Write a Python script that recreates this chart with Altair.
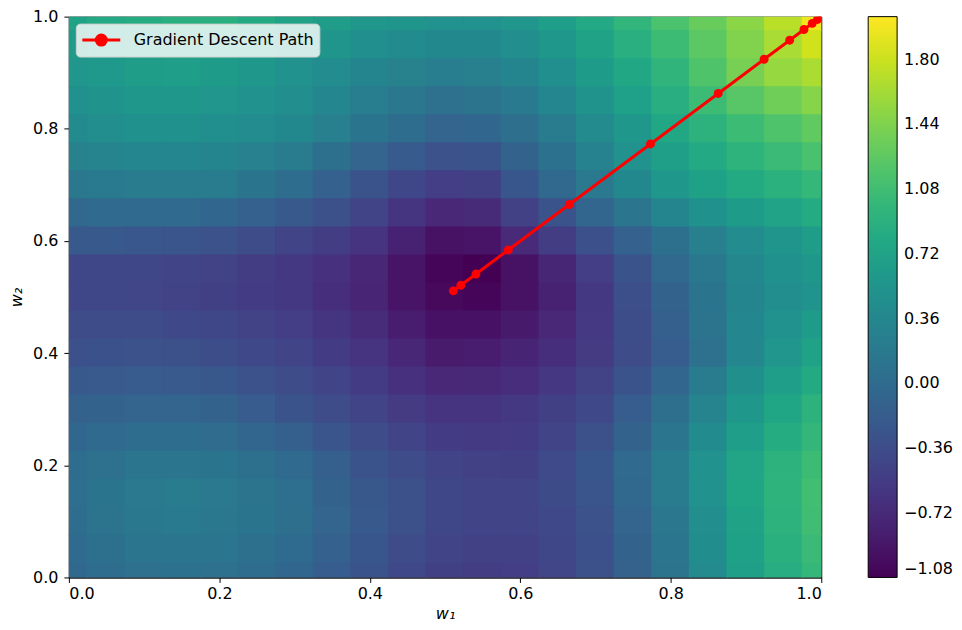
import altair as alt
import pandas as pd

# ---- data ----
w1_grid = [0.00, 0.05, 0.10, 0.15, 0.20, 0.25, 0.30, 0.35, 0.40, 0.45, 0.50,
           0.55, 0.60, 0.65, 0.70, 0.75, 0.80, 0.85, 0.90, 0.95, 1.00]
w2_grid = [1.00, 0.95, 0.90, 0.85, 0.80, 0.75, 0.70, 0.65, 0.60, 0.55, 0.50,
           0.45, 0.40, 0.35, 0.30, 0.25, 0.20, 0.15, 0.10, 0.05, 0.00]

loss_rows = [
    [0.72, 0.80, 0.85, 0.88, 0.88, 0.82, 0.72, 0.65, 0.58, 0.54, 0.50, 0.50, 0.55, 0.67, 0.80, 0.97, 1.15, 1.32, 1.50, 1.72, 1.98],
    [0.64, 0.70, 0.75, 0.77, 0.76, 0.70, 0.61, 0.54, 0.46, 0.41, 0.37, 0.38, 0.44, 0.57, 0.71, 0.88, 1.05, 1.25, 1.45, 1.64, 1.82],
    [0.55, 0.60, 0.65, 0.66, 0.64, 0.58, 0.50, 0.42, 0.33, 0.28, 0.24, 0.25, 0.33, 0.46, 0.62, 0.78, 0.95, 1.18, 1.40, 1.55, 1.65],
    [0.48, 0.53, 0.57, 0.57, 0.55, 0.50, 0.44, 0.34, 0.23, 0.15, 0.08, 0.10, 0.19, 0.34, 0.51, 0.69, 0.87, 1.05, 1.23, 1.36, 1.47],
    [0.40, 0.45, 0.48, 0.48, 0.46, 0.42, 0.38, 0.25, 0.12, 0.02, -0.08, -0.05, 0.05, 0.22, 0.40, 0.59, 0.78, 0.92, 1.05, 1.17, 1.28],
    [0.28, 0.32, 0.35, 0.35, 0.33, 0.27, 0.20, 0.06, -0.08, -0.20, -0.30, -0.28, -0.10, 0.09, 0.29, 0.49, 0.68, 0.81, 0.94, 1.04, 1.14],
    [0.15, 0.19, 0.22, 0.22, 0.20, 0.12, 0.02, -0.13, -0.28, -0.42, -0.52, -0.50, -0.25, -0.04, 0.18, 0.38, 0.58, 0.70, 0.82, 0.91, 1.00],
    [-0.04, -0.02, -0.01, -0.02, -0.05, -0.13, -0.22, -0.33, -0.45, -0.61, -0.74, -0.71, -0.49, -0.29, -0.07, 0.13, 0.33, 0.48, 0.62, 0.73, 0.83],
    [-0.22, -0.22, -0.24, -0.26, -0.30, -0.37, -0.45, -0.53, -0.62, -0.80, -0.95, -0.92, -0.72, -0.53, -0.32, -0.13, 0.07, 0.25, 0.42, 0.54, 0.65],
    [-0.42, -0.42, -0.43, -0.45, -0.48, -0.53, -0.58, -0.65, -0.75, -0.92, -1.05, -1.08, -0.95, -0.76, -0.52, -0.28, -0.04, 0.17, 0.36, 0.48, 0.57],
    [-0.42, -0.43, -0.44, -0.47, -0.50, -0.54, -0.58, -0.67, -0.77, -0.92, -1.02, -1.04, -0.95, -0.80, -0.58, -0.34, -0.10, 0.12, 0.33, 0.44, 0.52],
    [-0.37, -0.37, -0.37, -0.40, -0.43, -0.48, -0.52, -0.61, -0.70, -0.84, -0.94, -0.94, -0.87, -0.74, -0.57, -0.36, -0.14, 0.10, 0.34, 0.50, 0.62],
    [-0.32, -0.31, -0.30, -0.33, -0.36, -0.41, -0.46, -0.54, -0.62, -0.75, -0.86, -0.84, -0.78, -0.67, -0.55, -0.37, -0.18, 0.08, 0.35, 0.55, 0.72],
    [-0.22, -0.21, -0.19, -0.21, -0.23, -0.30, -0.37, -0.46, -0.54, -0.65, -0.74, -0.73, -0.68, -0.59, -0.48, -0.28, -0.07, 0.20, 0.47, 0.66, 0.82],
    [-0.12, -0.10, -0.08, -0.08, -0.10, -0.19, -0.28, -0.37, -0.46, -0.55, -0.62, -0.62, -0.58, -0.50, -0.40, -0.18, 0.05, 0.32, 0.58, 0.77, 0.92],
    [-0.05, -0.01, 0.03, 0.03, 0.01, -0.07, -0.15, -0.26, -0.37, -0.46, -0.54, -0.56, -0.54, -0.45, -0.33, -0.10, 0.14, 0.41, 0.67, 0.85, 0.99],
    [0.02, 0.08, 0.13, 0.14, 0.12, 0.06, -0.02, -0.15, -0.28, -0.37, -0.45, -0.49, -0.50, -0.39, -0.25, -0.02, 0.22, 0.50, 0.75, 0.92, 1.05],
    [0.04, 0.12, 0.18, 0.20, 0.18, 0.11, 0.04, -0.10, -0.23, -0.33, -0.42, -0.45, -0.46, -0.38, -0.26, -0.03, 0.21, 0.50, 0.76, 0.94, 1.09],
    [0.02, 0.11, 0.17, 0.19, 0.17, 0.12, 0.05, -0.08, -0.22, -0.33, -0.42, -0.45, -0.46, -0.40, -0.30, -0.08, 0.15, 0.45, 0.72, 0.92, 1.08],
    [0.00, 0.07, 0.13, 0.14, 0.13, 0.07, 0.00, -0.13, -0.25, -0.37, -0.46, -0.49, -0.49, -0.42, -0.32, -0.10, 0.13, 0.43, 0.70, 0.89, 1.04],
    [-0.03, 0.03, 0.08, 0.09, 0.08, 0.02, -0.05, -0.17, -0.28, -0.40, -0.50, -0.53, -0.52, -0.44, -0.33, -0.12, 0.10, 0.40, 0.68, 0.86, 1.00],
]

path_w1 = [1.000, 0.995, 0.988, 0.977, 0.958, 0.924, 0.863, 0.773, 0.665, 0.584, 0.541, 0.521, 0.511]
path_w2 = [1.000, 0.995, 0.988, 0.977, 0.958, 0.924, 0.863, 0.773, 0.665, 0.584, 0.541, 0.521, 0.511]
path_label = "Gradient Descent Path"

loss_domain = [-1.08, 2.04]
colorbar_ticks = [-1.08, -0.72, -0.36, 0.00, 0.36, 0.72, 1.08, 1.44, 1.80]
axis_ticks = [0.0, 0.2, 0.4, 0.6, 0.8, 1.0]

# ---- tables ----
half = 0.026
cells = []
for i, w2 in enumerate(w2_grid):
    for j, w1 in enumerate(w1_grid):
        cells.append({"x0": w1 - half, "x1": w1 + half,
                      "y0": w2 - half, "y1": w2 + half,
                      "loss": loss_rows[i][j]})
cells_df = pd.DataFrame(cells)
path_df = pd.DataFrame({"w1": path_w1, "w2": path_w2,
                        "series": [path_label] * len(path_w1),
                        "step": list(range(len(path_w1)))})

FONT = "DejaVu Sans"
xscale = alt.Scale(domain=[0, 1], nice=False, zero=False)
yscale = alt.Scale(domain=[0, 1], nice=False, zero=False)

heat = alt.Chart(cells_df).mark_rect(clip=True).encode(
    x=alt.X("x0:Q", scale=xscale,
            axis=alt.Axis(values=axis_ticks, format=".1f", title="w₁",
                          labelPadding=3, titlePadding=4)),
    x2="x1:Q",
    y=alt.Y("y0:Q", scale=yscale,
            axis=alt.Axis(values=axis_ticks, format=".1f", title="w₂",
                          labelPadding=6, titlePadding=8)),
    y2="y1:Q",
    color=alt.Color(
        "loss:Q",
        scale=alt.Scale(scheme="viridis", domain=loss_domain, nice=False, zero=False),
        legend=alt.Legend(
            title=None, orient="right", offset=47, direction="vertical",
            gradientLength=562, gradientThickness=29,
            gradientStrokeColor="black", gradientStrokeWidth=1,
            values=colorbar_ticks,
            labelExpr="replace(format(datum.value, '.2f'), '-', '\u2212')",
            labelFont=FONT, labelFontSize=16, labelColor="black",
            labelOffset=7, labelBaseline="middle", labelOverlap=False,
        ),
    ),
)

legend_symbol = ("M-1.9,0L1.9,0M0.5,0A0.5,0.5,0,1,1,-0.5,0"
                 "A0.5,0.5,0,1,1,0.5,0Z")

line = alt.Chart(path_df).mark_line(strokeWidth=3, clip=True).encode(
    x=alt.X("w1:Q", scale=xscale),
    y=alt.Y("w2:Q", scale=yscale),
    order="step:O",
    stroke=alt.Stroke(
        "series:N",
        scale=alt.Scale(domain=[path_label], range=["#ff0000"]),
        legend=alt.Legend(
            title=None, orient="top-left", offset=7, padding=5,
            fillColor="rgba(255,255,255,0.8)", strokeColor="#d0d0d0",
            cornerRadius=4, symbolType=legend_symbol, symbolSize=400,
            symbolOffset=9,
            symbolStrokeWidth=3, symbolFillColor="#ff0000",
            symbolStrokeColor="#ff0000",
            labelFont=FONT, labelFontSize=16, labelColor="black",
            labelOffset=21, labelLimit=400,
        ),
    ),
)

points = alt.Chart(path_df).mark_point(filled=True, size=80, opacity=1,
                                        color="#ff0000", clip=True).encode(
    x=alt.X("w1:Q", scale=xscale),
    y=alt.Y("w2:Q", scale=yscale),
)

chart = alt.layer(heat, line, points).resolve_scale(
    color="independent", stroke="independent"
).properties(
    width=754, height=562,
    padding={"left": 0, "top": 0, "right": 0, "bottom": 0},
).configure_view(
    stroke="black", strokeWidth=1
).configure_axis(
    grid=False, labelFont=FONT, labelFontSize=16, labelColor="black",
    titleFont=FONT, titleFontSize=16, titleFontWeight="normal", titleColor="black",
    titleFontStyle="italic",
    tickColor="black", tickSize=5, tickWidth=1, domainColor="black",
    zindex=1,
)

chart.save("out.html", embed_options={"renderer": "svg", "actions": False})
